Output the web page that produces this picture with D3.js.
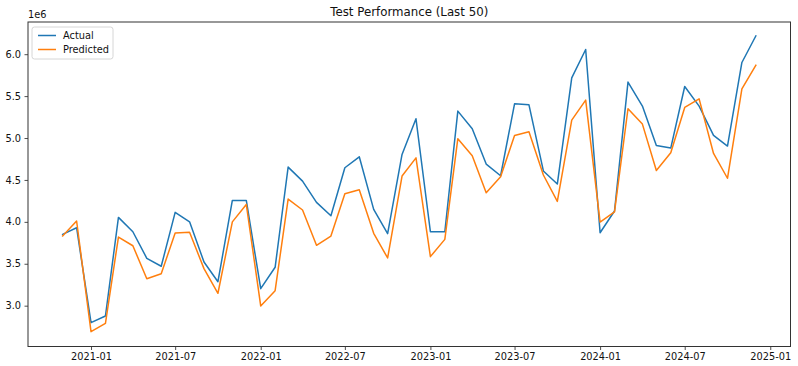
<!DOCTYPE html>
<html>
<head>
<meta charset="utf-8">
<script src="https://cdn.jsdelivr.net/npm/d3@7"></script>
<style>
  body { margin: 0; background: #fff; }
  svg { display: block; font-family: "DejaVu Sans", sans-serif; }
</style>
</head>
<body>
<svg id="viz_area" width="798" height="366"></svg>
<script>
// monthly test window, last 50 points
const months = [
  "2020-11","2020-12",
  "2021-01","2021-02","2021-03","2021-04","2021-05","2021-06",
  "2021-07","2021-08","2021-09","2021-10","2021-11","2021-12",
  "2022-01","2022-02","2022-03","2022-04","2022-05","2022-06",
  "2022-07","2022-08","2022-09","2022-10","2022-11","2022-12",
  "2023-01","2023-02","2023-03","2023-04","2023-05","2023-06",
  "2023-07","2023-08","2023-09","2023-10","2023-11","2023-12",
  "2024-01","2024-02","2024-03","2024-04","2024-05","2024-06",
  "2024-07","2024-08","2024-09","2024-10","2024-11","2024-12"
];

// values in units of 1e6
const actual = [
  3.851, 3.930,
  2.797, 2.877, 4.053, 3.882, 3.565, 3.470,
  4.113, 4.001, 3.521, 3.286, 4.256, 4.256,
  3.203, 3.458, 4.653, 4.486, 4.232, 4.073,
  4.645, 4.776, 4.149, 3.859, 4.804, 5.229,
  3.882, 3.882, 5.321, 5.110, 4.689, 4.550,
  5.408, 5.396, 4.607, 4.451, 5.718, 6.056,
  3.870, 4.129, 5.667, 5.381, 4.910, 4.880,
  5.615, 5.380, 5.031, 4.904, 5.901, 6.218
];

const predicted = [
  3.831, 4.010,
  2.690, 2.790, 3.819, 3.715, 3.322, 3.381,
  3.867, 3.875, 3.442, 3.148, 4.000, 4.208,
  2.997, 3.179, 4.272, 4.141, 3.720, 3.831,
  4.335, 4.383, 3.863, 3.569, 4.546, 4.763,
  3.585, 3.791, 4.992, 4.789, 4.347, 4.538,
  5.031, 5.074, 4.559, 4.244, 5.213, 5.452,
  3.997, 4.120, 5.349, 5.166, 4.612, 4.824,
  5.365, 5.467, 4.816, 4.520, 5.587, 5.869
];

const seriesNames = ["Actual", "Predicted"];
const seriesColors = ["#1f77b4", "#ff7f0e"];

const yTicks = [3.0, 3.5, 4.0, 4.5, 5.0, 5.5, 6.0];

const run = () => {
    const margin = {top: 22, right: 7.5, bottom: 19.5, left: 28};
    const W = 798, H = 366;
    const width = W - margin.left - margin.right,
          height = H - margin.top - margin.bottom;

    const parse = d3.timeParse("%Y-%m");
    const dates = months.map(parse);

    const svg = d3.select("#viz_area");
    const g = svg.append("g")
        .attr("transform", "translate(" + margin.left + "," + margin.top + ")");

    // matplotlib style 5% padding on the date axis
    const [d0, d1] = d3.extent(dates);
    const pad = (d1 - d0) * 0.05;
    const x = d3.scaleTime()
        .domain([new Date(+d0 - pad), new Date(+d1 + pad)])
        .range([0, width]);

    const y = d3.scaleLinear()
        .domain([2.513, 6.384])
        .range([height, 0]);

    // x axis
    const xAxis = g.append("g")
        .attr("transform", "translate(0," + height + ")")
        .call(d3.axisBottom(x)
            .ticks(d3.timeMonth.every(6))
            .tickFormat(d3.timeFormat("%Y-%m"))
            .tickSizeInner(3.5).tickSizeOuter(0).tickPadding(3.5));
    xAxis.select(".domain").remove();
    xAxis.selectAll("line").attr("stroke", "#222").attr("stroke-width", 0.8);
    xAxis.selectAll("text").attr("fill", "#111").style("font-size", "9.8px")
        .style("font-family", "DejaVu Sans");

    // y axis
    const yAxis = g.append("g")
        .call(d3.axisLeft(y)
            .tickValues(yTicks)
            .tickFormat(d3.format(".1f"))
            .tickSizeInner(3.5).tickSizeOuter(0).tickPadding(3.5));
    yAxis.select(".domain").remove();
    yAxis.selectAll("line").attr("stroke", "#222").attr("stroke-width", 0.8);
    yAxis.selectAll("text").attr("fill", "#111").style("font-size", "9.8px")
        .style("font-family", "DejaVu Sans");

    // lines
    const line = d3.line()
        .x((d, i) => x(dates[i]))
        .y(d => y(d));

    [actual, predicted].forEach((vals, k) => {
        g.append("path")
            .datum(vals)
            .attr("fill", "none")
            .attr("stroke", seriesColors[k])
            .attr("stroke-width", 1.5)
            .attr("stroke-linejoin", "round")
            .attr("stroke-linecap", "square")
            .attr("d", line);
    });

    // frame
    g.append("rect")
        .attr("width", width).attr("height", height)
        .attr("fill", "none")
        .attr("stroke", "#333").attr("stroke-width", 1);

    // offset text & title
    svg.append("text")
        .attr("x", margin.left).attr("y", 18)
        .attr("fill", "#111").style("font-size", "9.8px")
        .text("1e6");

    svg.append("text")
        .attr("x", margin.left + width / 2).attr("y", 16)
        .attr("text-anchor", "middle")
        .attr("fill", "#111").style("font-size", "11.8px")
        .text("Test Performance (Last 50)");

    // legend
    const lg = g.append("g").attr("transform", "translate(4,5)");
    lg.append("rect")
        .attr("width", 81).attr("height", 32)
        .attr("rx", 2.5)
        .attr("fill", "#fff").attr("fill-opacity", 0.8)
        .attr("stroke", "#ccc").attr("stroke-width", 0.8);
    seriesNames.forEach((name, k) => {
        const yy = 8.5 + k * 14;
        lg.append("line")
            .attr("x1", 6).attr("x2", 24)
            .attr("y1", yy).attr("y2", yy)
            .attr("stroke", seriesColors[k]).attr("stroke-width", 1.5);
        lg.append("text")
            .attr("x", 31).attr("y", yy + 3.5)
            .attr("fill", "#111").style("font-size", "9.8px")
            .text(name);
    });
};
window.onload = run;
</script>
</body>
</html>
